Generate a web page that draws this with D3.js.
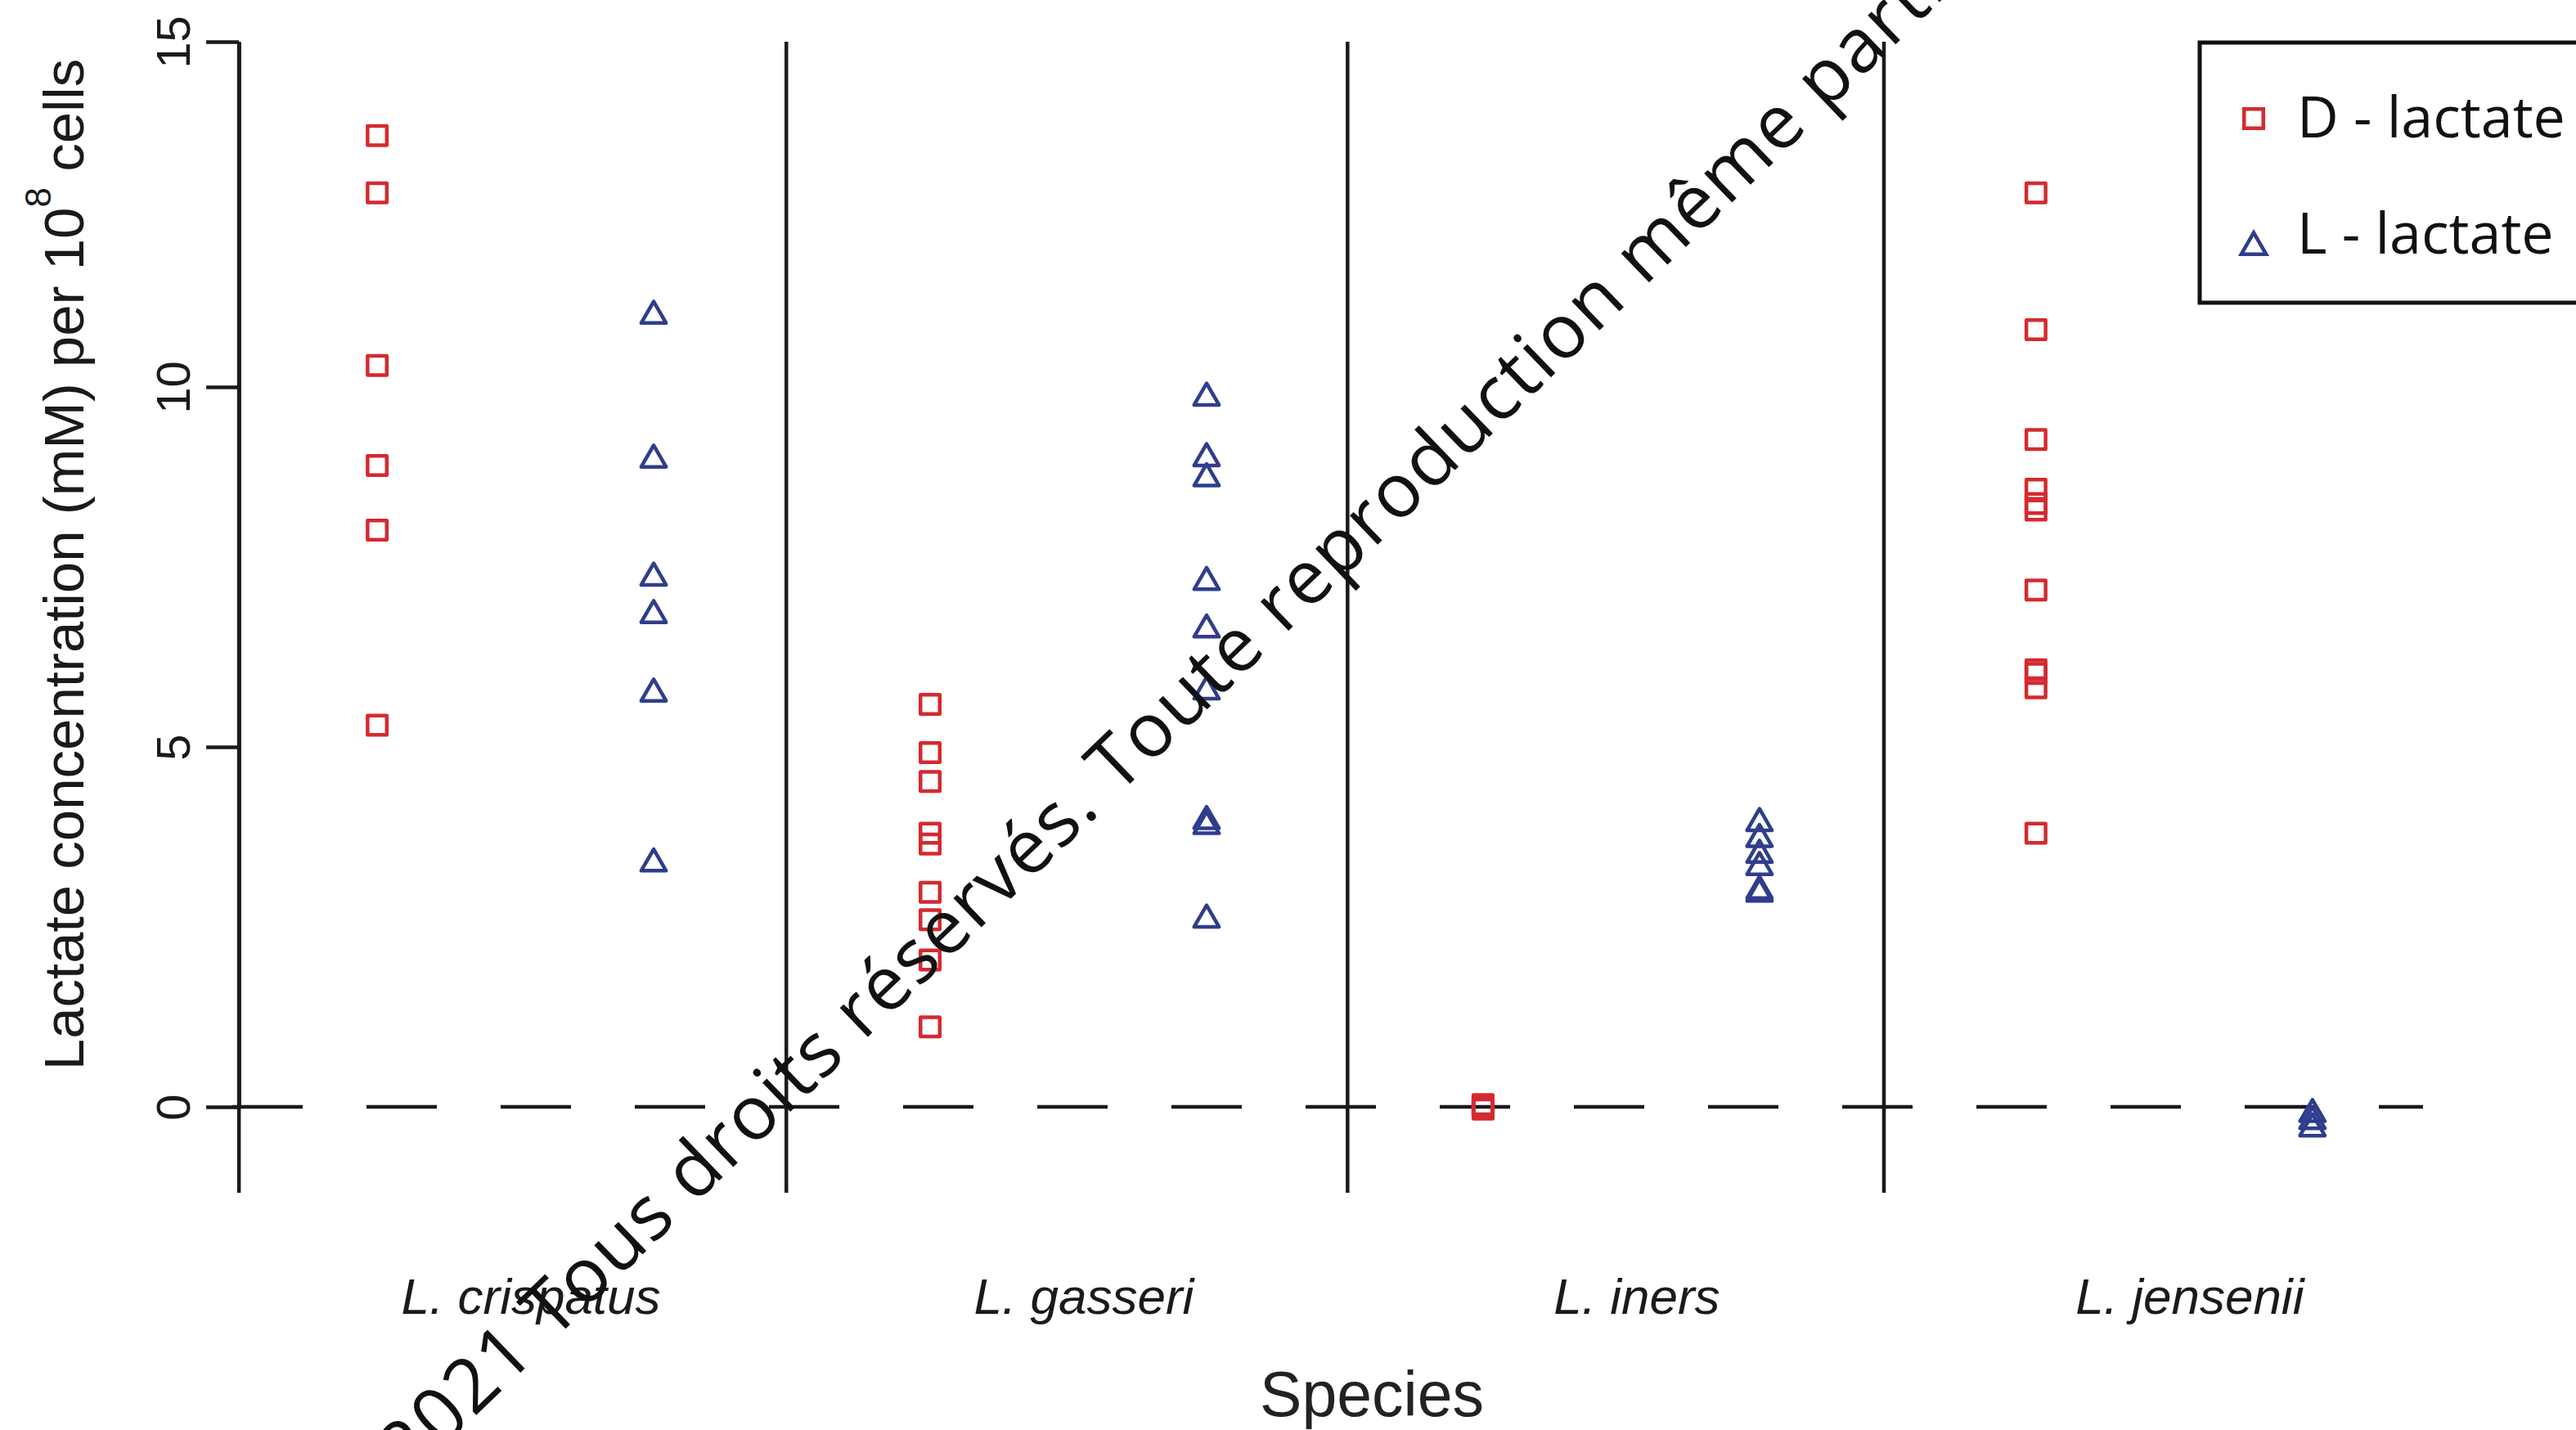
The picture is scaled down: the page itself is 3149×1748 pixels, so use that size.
<!DOCTYPE html>
<html>
<head>
<meta charset="utf-8">
<script src="https://cdn.jsdelivr.net/npm/d3@7"></script>
<style>
  body { margin: 0; background: #fff; }
  svg { display: block; }
</style>
</head>
<body>
<svg id="chart" width="3149" height="1748"></svg>
<script>
// values, one array per species
var species = ["L. crispatus", "L. gasseri", "L. iners", "L. jensenii"];
var dLactate = [
  [13.64, 12.81, 10.31, 8.91, 8.01, 5.30],
  [5.59, 4.92, 4.52, 3.80, 3.65, 2.98, 2.60, 2.04, 1.11],
  [0.03, 0.01, 0.00, -0.01, -0.03],
  [12.81, 10.83, 9.27, 8.58, 8.38, 8.29, 7.18, 6.07, 6.02, 5.82, 3.80]
];
var lLactate = [
  [11.03, 8.99, 7.35, 6.83, 5.74, 3.38],
  [9.85, 9.01, 8.73, 7.29, 6.63, 5.77, 3.97, 3.90, 2.60],
  [3.94, 3.72, 3.50, 3.33, 3.00, 2.96],
  [-0.10, -0.20, -0.30]
];
var yTicks = [0, 5, 10, 15];
var separators = [0.5, 2.48, 4.51, 6.45];
var legendLabels = ["D - lactate", "L - lactate"];
var watermark = "\u00a9 2021 Tous droits r\u00e9serv\u00e9s. Toute reproduction m\u00eame partielle interdite.";

var red = "#d42a2f";
var blue = "#2f3d8c";
var ink = "#1a1a1a";

var plot = { left: 284, right: 2962, top: 51, bottom: 1458 };

var x = d3.scaleLinear()
  .domain([0.476, 8.40])
  .range([plot.left, plot.right]);

var y = d3.scaleLinear()
  .domain([0, 10, 15])
  .range([1353, 473, 51]);

var svg = d3.select("#chart");

// flatten into points: D at odd slots, L at even slots
var points = [];
species.forEach(function (s, i) {
  dLactate[i].forEach(function (v) { points.push({ kind: "D", pos: 2 * i + 1, value: v }); });
  lLactate[i].forEach(function (v) { points.push({ kind: "L", pos: 2 * i + 2, value: v }); });
});

// dashed zero line
svg.append("line")
  .attr("x1", plot.left)
  .attr("x2", plot.right)
  .attr("y1", y(0))
  .attr("y2", y(0))
  .attr("stroke", ink)
  .attr("stroke-width", 4.5)
  .attr("stroke-dasharray", "86,78");

// vertical separators between species
svg.selectAll(".sep")
  .data(separators)
  .enter()
  .append("line")
  .attr("class", "sep")
  .attr("x1", function (d) { return x(d); })
  .attr("x2", function (d) { return x(d); })
  .attr("y1", plot.top)
  .attr("y2", plot.bottom)
  .attr("stroke", ink)
  .attr("stroke-width", 4.5);

// y axis
var yAxis = d3.axisLeft(y)
  .tickValues(yTicks)
  .tickSize(40)
  .tickSizeOuter(0)
  .tickFormat(d3.format("d"));

var axisG = svg.append("g")
  .attr("transform", "translate(" + x(0.5) + ",0)")
  .call(yAxis);

axisG.select(".domain").attr("stroke", ink).attr("stroke-width", 4.5);
axisG.selectAll(".tick line").attr("stroke", ink).attr("stroke-width", 4.5);
axisG.selectAll(".tick text")
  .attr("x", null)
  .attr("dy", null)
  .attr("transform", "translate(-60,0) rotate(-90)")
  .attr("text-anchor", "middle")
  .attr("fill", ink)
  .style("font-family", "'Liberation Sans', Arial, sans-serif")
  .style("font-size", "58px");

// y title with superscript
var yTitle = svg.append("text")
  .attr("transform", "translate(102,690) rotate(-90)")
  .attr("text-anchor", "middle")
  .attr("fill", ink)
  .style("font-family", "'Liberation Sans', Arial, sans-serif")
  .style("font-size", "69px");
yTitle.append("tspan").text("Lactate concentration (mM) per 10");
yTitle.append("tspan").attr("dy", -40).style("font-size", "44px").text("8");
yTitle.append("tspan").attr("dy", 40).text(" cells");

// markers
var square = d3.symbol().type(d3.symbolSquare).size(552);
var triangle = d3.symbol().type(d3.symbolTriangle).size(400);

svg.append("g")
  .selectAll("path")
  .data(points)
  .enter()
  .append("path")
  .attr("d", function (d) { return d.kind === "D" ? square() : triangle(); })
  .attr("transform", function (d) { return "translate(" + x(d.pos) + "," + y(d.value) + ")"; })
  .attr("fill", "none")
  .attr("stroke", function (d) { return d.kind === "D" ? red : blue; })
  .attr("stroke-width", 4.5)
  .attr("stroke-linejoin", "round");

// species labels
svg.selectAll(".species")
  .data(species)
  .enter()
  .append("text")
  .attr("class", "species")
  .attr("x", function (d, i) { return x(2 * i + 1.5) + 19; })
  .attr("y", 1606)
  .attr("text-anchor", "middle")
  .attr("fill", ink)
  .style("font-family", "'Liberation Sans', Arial, sans-serif")
  .style("font-style", "italic")
  .style("font-size", "62px")
  .text(function (d) { return d; });

svg.append("text")
  .attr("x", 1677)
  .attr("y", 1731)
  .attr("text-anchor", "middle")
  .attr("fill", "#222")
  .style("font-family", "'Liberation Sans', Arial, sans-serif")
  .style("font-size", "77px")
  .text("Species");

// legend
var legend = svg.append("g").attr("class", "legend");
legend.append("rect")
  .attr("x", 2689)
  .attr("y", 52)
  .attr("width", 600)
  .attr("height", 318)
  .attr("fill", "#fff")
  .attr("stroke", "#111")
  .attr("stroke-width", 5);

legend.selectAll(".legend-mark")
  .data(legendLabels)
  .enter()
  .append("path")
  .attr("class", "legend-mark")
  .attr("d", function (d, i) { return i === 0 ? square() : triangle(); })
  .attr("transform", function (d, i) { return "translate(2755," + (i === 0 ? 145 : 302) + ")"; })
  .attr("fill", "none")
  .attr("stroke", function (d, i) { return i === 0 ? red : blue; })
  .attr("stroke-width", 4.5);

legend.selectAll(".legend-label")
  .data(legendLabels)
  .enter()
  .append("text")
  .attr("class", "legend-label")
  .attr("x", 2808)
  .attr("y", function (d, i) { return i === 0 ? 168 : 310; })
  .attr("fill", "#111")
  .style("font-family", "'Open Sans', sans-serif")
  .style("font-size", "70px")
  .text(function (d) { return d; });

// diagonal watermark across the figure
var angle = 44;
var wm = svg.append("text")
  .attr("fill", "#111")
  .style("font-family", "'Open Sans', sans-serif")
  .style("font-size", "92px")
  .style("letter-spacing", "2px")
  .text(watermark);
var offset = wm.node().getSubStringLength(0, watermark.indexOf("Toute"));
var rad = angle * Math.PI / 180;
var sx = 1366 - offset * Math.cos(rad);
var sy = 973 + offset * Math.sin(rad);
wm.attr("transform", "translate(" + sx + "," + sy + ") rotate(" + (-angle) + ")");
</script>
</body>
</html>
